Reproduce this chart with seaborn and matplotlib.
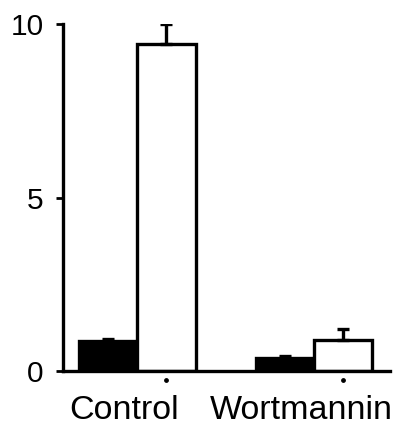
import numpy as np
import pandas as pd
import seaborn as sns
import matplotlib
matplotlib.use("Agg")
import matplotlib.pyplot as plt
import matplotlib.transforms as mtransforms

# Data
groups = ["Control", "Wortmannin"]
conditions = ["basal", "stimulated"]
values_basal = [0.87, 0.38]
values_stim = [9.42, 0.90]
err_basal = [0.05, 0.04]
err_stim = [0.58, 0.30]
yticks = [0, 5, 10]

df = pd.DataFrame({
    "group": groups * 2,
    "condition": [conditions[0]] * 2 + [conditions[1]] * 2,
    "value": values_basal + values_stim,
})

sns.set_style("white")
plt.rcParams["font.family"] = ["Liberation Sans", "DejaVu Sans"]

fig = plt.figure(figsize=(3.96, 4.25), dpi=100)
ax = fig.add_axes([0.159, 0.127, 0.826, 0.8165])

sns.barplot(data=df, x="group", y="value", hue="condition",
            order=groups, hue_order=conditions,
            palette={"basal": "black", "stimulated": "white"},
            edgecolor="black", linewidth=2.4, width=0.66,
            errorbar=None, legend=False, ax=ax)

# Upward-only error bars on each bar
errs = {"basal": err_basal, "stimulated": err_stim}
vals = {"basal": values_basal, "stimulated": values_stim}
for cont, cond in zip(ax.containers, conditions):
    xs = [p.get_x() + p.get_width() / 2 for p in cont.patches]
    ax.errorbar(xs, vals[cond], yerr=[np.zeros(len(xs)), errs[cond]],
                fmt="none", ecolor="black", elinewidth=2.4, capsize=4,
                capthick=2.4, zorder=3)
    if cond == "stimulated":
        ax.scatter(xs, [-0.25] * len(xs), s=6, color="black",
                   clip_on=False, zorder=4)

ax.set_xlim(-0.42, 1.43)
ax.set_ylim(0, 10)
ax.set_yticks(yticks)
ax.set_yticklabels([str(t) for t in yticks])
ax.set_xlabel("")
ax.set_ylabel("")

for s in ["top", "right"]:
    ax.spines[s].set_visible(False)
for s in ["left", "bottom"]:
    ax.spines[s].set_linewidth(2.4)
    ax.spines[s].set_color("black")

ax.tick_params(axis="y", direction="out", length=5, width=2, labelsize=21.5,
               pad=9, left=True, colors="black")
ax.tick_params(axis="x", length=0, labelsize=24.5, pad=17, colors="black")

# Group labels sit a little left of the bar-pair centres
shift = mtransforms.ScaledTranslation(-13 / 100, 0, fig.dpi_scale_trans)
for lbl in ax.get_xticklabels():
    lbl.set_transform(lbl.get_transform() + shift)

fig.savefig("out.png", dpi=100, facecolor="white")
